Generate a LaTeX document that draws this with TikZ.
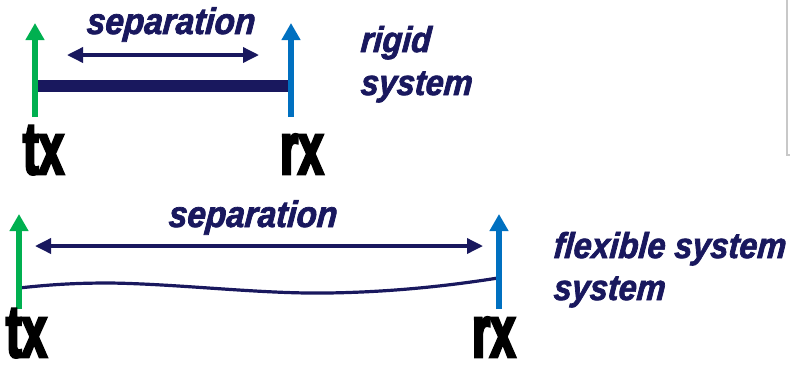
\documentclass[tikz,border=0pt]{standalone}
\usepackage{fontspec}
\usetikzlibrary{arrows.meta}
\newfontfamily\lblfont[FakeStretch=0.9,FakeBold=2,FakeSlant=0.08]{Liberation Sans}
\newfontfamily\endfont[FakeStretch=0.62,FakeBold=3.5]{Liberation Sans}
\definecolor{navy}{RGB}{25,24,94}
\definecolor{txgreen}{RGB}{0,176,80}
\definecolor{rxblue}{RGB}{0,112,192}
\definecolor{edgegray}{RGB}{200,200,200}
\tikzset{
  sep/.style={anchor=base west, inner sep=0pt, text=navy,
    font=\lblfont\bfseries\itshape\fontsize{37}{42}\selectfont},
  sysname/.style={anchor=base west, inner sep=0pt, text=navy,
    font=\lblfont\bfseries\itshape\fontsize{36}{42}\selectfont},
  endlabel/.style={anchor=base west, inner sep=0pt, text=black,
    font=\endfont\bfseries\fontsize{74}{74}\selectfont},
  antenna/.style={line width=5.5pt, -{Triangle[width=18pt,length=17pt]}},
  span/.style={navy, line width=3.5pt,
    {Triangle[width=15pt,length=16pt]}-{Triangle[width=15pt,length=16pt]}},
  link/.style={navy, line width=3.2pt, line cap=round},
}
\begin{document}
\begin{tikzpicture}[x=1pt,y=-1pt]
  \useasboundingbox (0,0) rectangle (790,368);

  % frame edge on the right
  \coordinate (g1) at (787,0);
  \coordinate (g2) at (787,155);
  \coordinate (g3) at (790,155);
  \draw[edgegray, line width=1.5pt] (g1) -- (g2) -- (g3);

  % ---------- rigid system ----------
  \coordinate (t1b) at (35,117);
  \coordinate (t1t) at (35,23);
  \coordinate (r1b) at (291,117);
  \coordinate (r1t) at (291,23);
  \coordinate (bar1) at (35,86);
  \coordinate (bar2) at (289,86);
  \coordinate (s1l) at (67,55);
  \coordinate (s1r) at (259,55);

  \draw[navy, line width=12pt] (bar1) -- (bar2);
  \draw[antenna, txgreen] (t1b) -- (t1t);
  \draw[antenna, rxblue] (r1b) -- (r1t);
  \draw[span] (s1l) -- (s1r);

  \node[sep] (sep1) at (86,34) {separation};
  \node[sysname] (rig1) at (360,52) {rigid};
  \node[sysname] (rig2) at (360,95) {system};
  \node[endlabel] (tx1) at (23,174) {tx};
  \node[endlabel] (rx1) at (280,174) {rx};

  % ---------- flexible system ----------
  \coordinate (t2b) at (19,309);
  \coordinate (t2t) at (19,214);
  \coordinate (r2b) at (499,309);
  \coordinate (r2t) at (499,214);
  \coordinate (s2l) at (35,246);
  \coordinate (s2r) at (483,246);
  \coordinate (w0) at (19,288);
  \coordinate (w1) at (110,283);
  \coordinate (w2) at (327,293);
  \coordinate (w3) at (498,278);

  \draw[link] (w0) .. controls (55,284) and (80,283) .. (w1)
              .. controls (180,284) and (260,294) .. (w2)
              .. controls (400,292) and (460,284) .. (w3);
  \draw[antenna, txgreen] (t2b) -- (t2t);
  \draw[antenna, rxblue] (r2b) -- (r2t);
  \draw[span] (s2l) -- (s2r);

  \node[sep] (sep2) at (168,227) {separation};
  \node[sysname] (flex1) at (553,258) {flexible system};
  \node[sysname] (flex2) at (553,300) {system};
  \node[endlabel] (tx2) at (6,357) {tx};
  \node[endlabel] (rx2) at (472,357) {rx};
\end{tikzpicture}
\end{document}
